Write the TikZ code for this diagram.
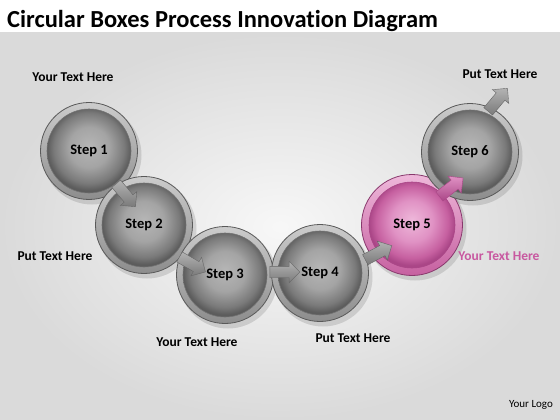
\documentclass[tikz,border=0pt]{standalone}
\usepackage{fontspec}
\setmainfont{Carlito}[Ligatures=NoCommon]
\usetikzlibrary{shapes.arrows,shadings}
\definecolor{gb0}{RGB}{182,182,182}
\definecolor{gb1}{RGB}{164,164,164}
\definecolor{gb2}{RGB}{122,122,122}
\definecolor{gb3}{RGB}{92,92,92}
\definecolor{pb0}{RGB}{238,184,218}
\definecolor{pb1}{RGB}{224,146,196}
\definecolor{pb2}{RGB}{198,96,160}
\definecolor{pb3}{RGB}{170,70,135}
\definecolor{pinkT}{RGB}{200,88,160}
\definecolor{bgout}{RGB}{218,218,218}
\pgfdeclareradialshading{grayball}{\pgfpoint{0bp}{3bp}}{color(0bp)=(gb0); color(12bp)=(gb1); color(21bp)=(gb2); color(25bp)=(gb3); color(50bp)=(gb3)}
\pgfdeclareradialshading{pinkball}{\pgfpoint{0bp}{3bp}}{color(0bp)=(pb0); color(12bp)=(pb1); color(21bp)=(pb2); color(25bp)=(pb3); color(50bp)=(pb3)}
\begin{document}
\begin{tikzpicture}[x=1pt,y=-1pt,
  ringg/.style={circle,minimum size=97pt,inner sep=0,draw=black!65,line width=0.8pt,top color=black!20,bottom color=black!45},
  ringp/.style={circle,minimum size=101pt,inner sep=0,draw=pb3!80!black,line width=0.8pt,top color=pb0,bottom color=pb2},
  ballg/.style={circle,minimum size=84pt,inner sep=0,draw=black!55,line width=0.6pt,shading=grayball,font=\bfseries\fontsize{14.5}{17}\selectfont},
  ballp/.style={circle,minimum size=86pt,inner sep=0,draw=pb3,line width=0.6pt,shading=pinkball,font=\bfseries\fontsize{14.5}{17}\selectfont},
  shadowc/.style={circle,inner sep=0,fill=black,opacity=0.12},
  blockg/.style={single arrow,inner sep=5.5pt,minimum height=30pt,single arrow head extend=5pt,draw=black!60,line width=0.4pt,top color=black!30,bottom color=black!52},
  blockp/.style={single arrow,inner sep=5.5pt,minimum height=30pt,single arrow head extend=5pt,draw=pb3,line width=0.4pt,top color=pb1,bottom color=pb3},
  lbl/.style={font=\bfseries\fontsize{13.5}{16}\selectfont}]
\useasboundingbox (0,0) rectangle (560,420);
\fill[white] (0,0) rectangle (560,420);
\shade[inner color=white!97!black,outer color=bgout] (0,33) rectangle (560,420);
\node[anchor=base west,inner sep=0,font=\bfseries\fontsize{24.5}{28}\selectfont] (title) at (7,28) {Circular Boxes Process Innovation Diagram};
% shadows
\node[shadowc,minimum size=99pt] (sh1) at (92,155) {};
\node[shadowc,minimum size=99pt] (sh2) at (147,229) {};
\node[shadowc,minimum size=99pt] (sh3) at (228,279) {};
\node[shadowc,minimum size=99pt] (sh4) at (323,277) {};
\node[shadowc,minimum size=103pt] (sh5) at (415,229) {};
\node[shadowc,minimum size=99pt] (sh6) at (473,156) {};
% circles
\node[ringg] (r1) at (89,151) {};
\node[ballg] (s1) at (89,151) {Step 1};
\node[ringg] (r2) at (144,225) {};
\node[ballg] (s2) at (144,225) {Step 2};
\node[ringg] (r3) at (225,275) {};
\node[ballg] (s3) at (225,275) {Step 3};
\node[ringg] (r4) at (320,273) {};
\node[ballg] (s4) at (320,273) {Step 4};
\node[ringp] (r5) at (412,225) {};
\node[ballp] (s5) at (412,225) {Step 5};
\node[ringg] (r6) at (470,152) {};
\node[ballg] (s6) at (470,152) {Step 6};
% arrows
\node[blockg,rotate=-50] (a12) at (124,193) {};
\node[blockg,rotate=-30] (a23) at (190,263) {};
\node[blockg,rotate=0] (a34) at (282,272) {};
\node[blockg,rotate=28] (a45) at (376,254) {};
\node[blockp,rotate=38] (a56) at (449,189) {};
\node[blockg,rotate=50] (a6o) at (496,102) {};
% labels
\node[lbl] (t1) at (73,77) {Your Text Here};
\node[lbl] (t2) at (55,256) {Put Text Here};
\node[lbl] (t3) at (197,342) {Your Text Here};
\node[lbl] (t4) at (353,338) {Put Text Here};
\node[lbl,text=pinkT] (t5) at (499,256) {Your Text Here};
\node[lbl] (t6) at (500,74) {Put Text Here};
\node[font=\fontsize{11}{13}\selectfont] (logo) at (531,405) {Your Logo};
\end{tikzpicture}
\end{document}
